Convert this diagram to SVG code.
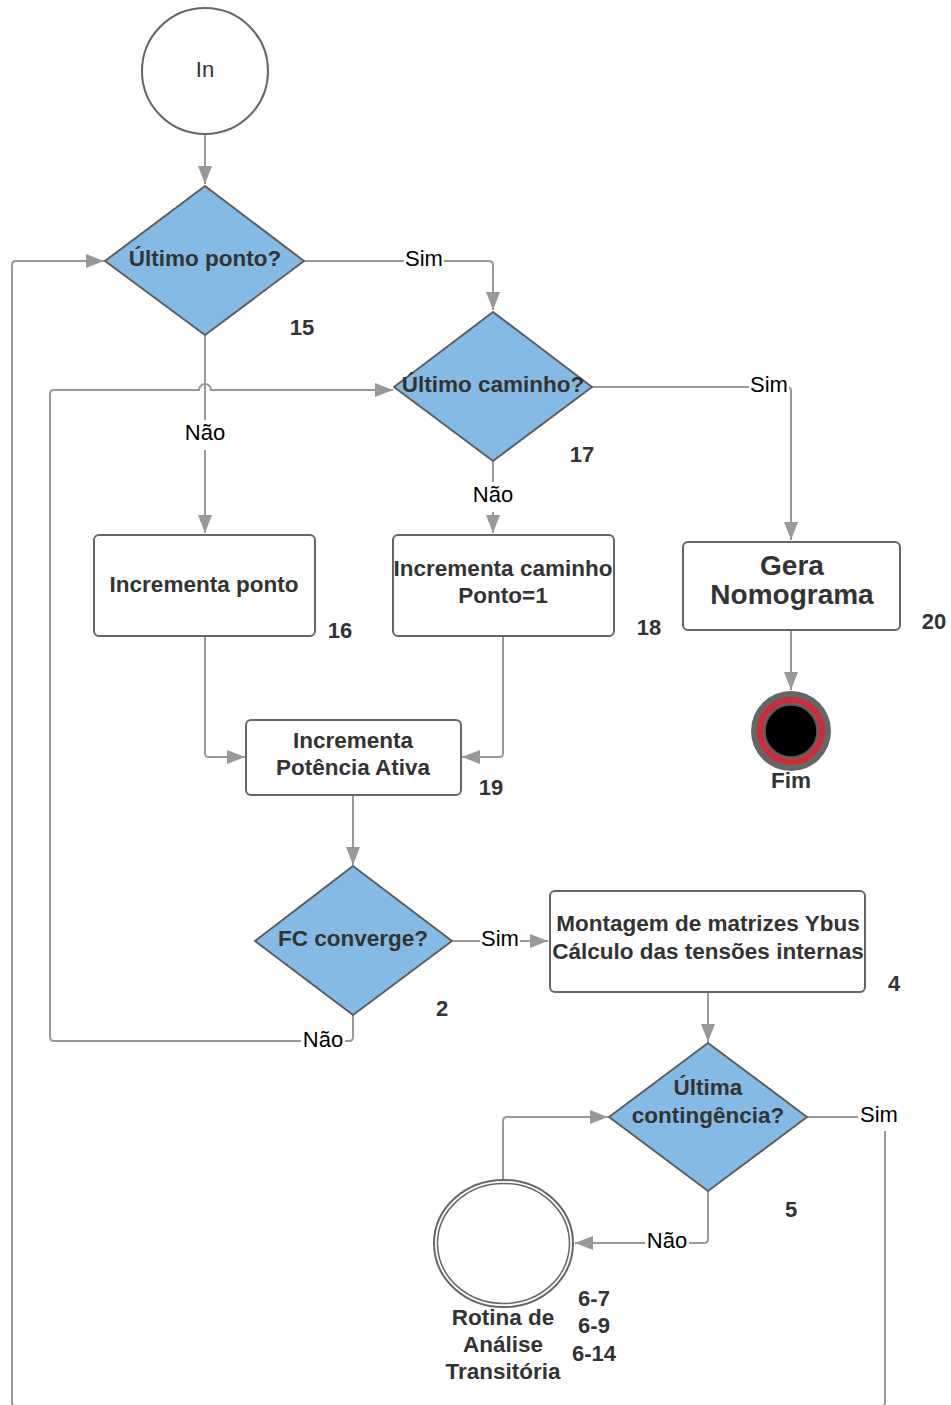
<svg xmlns="http://www.w3.org/2000/svg" width="951" height="1405" viewBox="0 0 951 1405">
  <style>
    .edge { fill: none; stroke: #999999; stroke-width: 2; }
    .box { fill: #ffffff; stroke: #666666; stroke-width: 2; }
    .dec { fill: #84bae3; stroke: #5e5e5e; stroke-width: 2; stroke-linejoin: round; }
    .t { font-family: "Liberation Sans", Arial, sans-serif; font-size: 22.5px; font-weight: bold; fill: #333333; text-anchor: middle; }
    .big { font-size: 28px; }
    .num { font-family: "Liberation Sans", Arial, sans-serif; font-size: 22px; font-weight: bold; fill: #333333; text-anchor: middle; }
    .lbl { font-family: "Liberation Sans", Arial, sans-serif; font-size: 22px; fill: #000000; text-anchor: middle; }
    .lblbg { fill: #ffffff; }
  </style>
  <defs>
    <marker id="arrow" markerUnits="userSpaceOnUse" markerWidth="18" markerHeight="14" refX="18" refY="7" orient="auto">
      <path d="M0,0 L18,7 L0,14 z" fill="#999999"/>
    </marker>
  </defs>

  <!-- connectors -->
  <g id="connectors">
    <path class="edge" d="M205,134 V184" marker-end="url(#arrow)"/>
    <path class="edge" d="M304,261 H489 Q493,261 493,265 V310" marker-end="url(#arrow)"/>
    <path class="edge" d="M592,387 H787 Q791,387 791,391 V540" marker-end="url(#arrow)"/>
    <path class="edge" d="M205,335 V533" marker-end="url(#arrow)"/>
    <path class="edge" d="M493,461 V533" marker-end="url(#arrow)"/>
    <path class="edge" d="M791,630 V690" marker-end="url(#arrow)"/>
    <path class="edge" d="M205,636 V753 Q205,757 209,757 H245" marker-end="url(#arrow)"/>
    <path class="edge" d="M503,636 V753 Q503,757 499,757 H462" marker-end="url(#arrow)"/>
    <path class="edge" d="M353,795 V865" marker-end="url(#arrow)"/>
    <path class="edge" d="M452,941 H548" marker-end="url(#arrow)"/>
    <path class="edge" d="M353,1015 V1037 Q353,1041 349,1041 H54 Q50,1041 50,1037 V394 Q50,390 54,390 H199 A6,6 0 0 1 211,390 H393" marker-end="url(#arrow)"/>
    <path class="edge" d="M708,992 V1042" marker-end="url(#arrow)"/>
    <path class="edge" d="M708,1191 V1239 Q708,1243 704,1243 H575" marker-end="url(#arrow)"/>
    <path class="edge" d="M503,1180 V1121 Q503,1117 507,1117 H608" marker-end="url(#arrow)"/>
    <path class="edge" d="M807,1117 H881 Q885,1117 885,1121 V1402 Q885,1406 881,1406 H16 Q12,1406 12,1402 V265 Q12,261 16,261 H104" marker-end="url(#arrow)"/>

    <!-- connector labels -->
    <rect class="lblbg" x="404" y="247" width="40" height="24"/>
    <text class="lbl" x="424" y="266">Sim</text>
    <rect class="lblbg" x="749" y="373" width="40" height="24"/>
    <text class="lbl" x="769" y="392">Sim</text>
    <rect class="lblbg" x="183" y="420" width="44" height="30"/>
    <text class="lbl" x="205" y="440">Não</text>
    <rect class="lblbg" x="471" y="482" width="44" height="30"/>
    <text class="lbl" x="493" y="502">Não</text>
    <rect class="lblbg" x="480" y="927" width="40" height="24"/>
    <text class="lbl" x="500" y="946">Sim</text>
    <rect class="lblbg" x="301" y="1027" width="44" height="26"/>
    <text class="lbl" x="323" y="1047">Não</text>
    <rect class="lblbg" x="645" y="1229" width="44" height="26"/>
    <text class="lbl" x="667" y="1248">Não</text>
    <rect class="lblbg" x="858" y="1102" width="42" height="29"/>
    <text class="lbl" x="879" y="1122">Sim</text>
  </g>

  <!-- start -->
  <g id="n-in">
    <circle cx="205" cy="71" r="63" fill="#ffffff" stroke="#666666" stroke-width="2"/>
    <text x="205" y="77" font-family="Liberation Sans, Arial, sans-serif" font-size="22" fill="#333333" text-anchor="middle">In</text>
  </g>

  <g id="n15">
    <polygon class="dec" points="205,186 304,261 205,335 105,261"/>
    <text class="t" x="205" y="266">Último ponto?</text>
    <text class="num" x="302" y="335">15</text>
  </g>

  <g id="n17">
    <polygon class="dec" points="493,312 592,387 493,461 394,387"/>
    <text class="t" x="493" y="392">Último caminho?</text>
    <text class="num" x="582" y="462">17</text>
  </g>

  <g id="n16">
    <rect class="box" x="94" y="535" width="221" height="101" rx="5"/>
    <text class="t" x="204" y="592">Incrementa ponto</text>
    <text class="num" x="340" y="638">16</text>
  </g>

  <g id="n18">
    <rect class="box" x="393" y="535" width="221" height="101" rx="5"/>
    <text class="t" x="503" y="576">Incrementa caminho</text>
    <text class="t" x="503" y="603">Ponto=1</text>
    <text class="num" x="649" y="635">18</text>
  </g>

  <g id="n20">
    <rect class="box" x="683" y="542" width="217" height="88" rx="5"/>
    <text class="t big" x="792" y="575">Gera</text>
    <text class="t big" x="792" y="604">Nomograma</text>
    <text class="num" x="934" y="629">20</text>
  </g>

  <g id="n-fim">
    <circle cx="791" cy="731" r="40" fill="#666666"/>
    <circle cx="791" cy="731" r="31" fill="none" stroke="#c92d39" stroke-width="6"/>
    <circle cx="791" cy="731" r="26" fill="#000000" stroke="#555555" stroke-width="1.5"/>
    <text class="t" x="791" y="788">Fim</text>
  </g>

  <g id="n19">
    <rect class="box" x="246" y="720" width="215" height="75" rx="5"/>
    <text class="t" x="353" y="748">Incrementa</text>
    <text class="t" x="353" y="775">Potência Ativa</text>
    <text class="num" x="491" y="795">19</text>
  </g>

  <g id="n2">
    <polygon class="dec" points="353,866 452,941 353,1015 255,941"/>
    <text class="t" x="353" y="946">FC converge?</text>
    <text class="num" x="442" y="1016">2</text>
  </g>

  <g id="n4">
    <rect class="box" x="550" y="891" width="315" height="101" rx="5"/>
    <text class="t" x="708" y="931">Montagem de matrizes Ybus</text>
    <text class="t" x="708" y="959">Cálculo das tensões internas</text>
    <text class="num" x="894" y="991">4</text>
  </g>

  <g id="n5">
    <polygon class="dec" points="708,1043 807,1117 708,1191 609,1117"/>
    <text class="t" x="708" y="1095">Última</text>
    <text class="t" x="708" y="1123">contingência?</text>
    <text class="num" x="791" y="1217">5</text>
  </g>

  <g id="n6">
    <ellipse cx="503.5" cy="1243.5" rx="69.5" ry="63.5" fill="#ffffff" stroke="#666666" stroke-width="2"/>
    <ellipse cx="503.5" cy="1243.5" rx="66" ry="60" fill="none" stroke="#666666" stroke-width="1.5"/>
    <text class="t" x="503" y="1325">Rotina de</text>
    <text class="t" x="503" y="1352">Análise</text>
    <text class="t" x="503" y="1379">Transitória</text>
    <text class="num" x="594" y="1306">6-7</text>
    <text class="num" x="594" y="1333">6-9</text>
    <text class="num" x="594" y="1361">6-14</text>
  </g>
</svg>
